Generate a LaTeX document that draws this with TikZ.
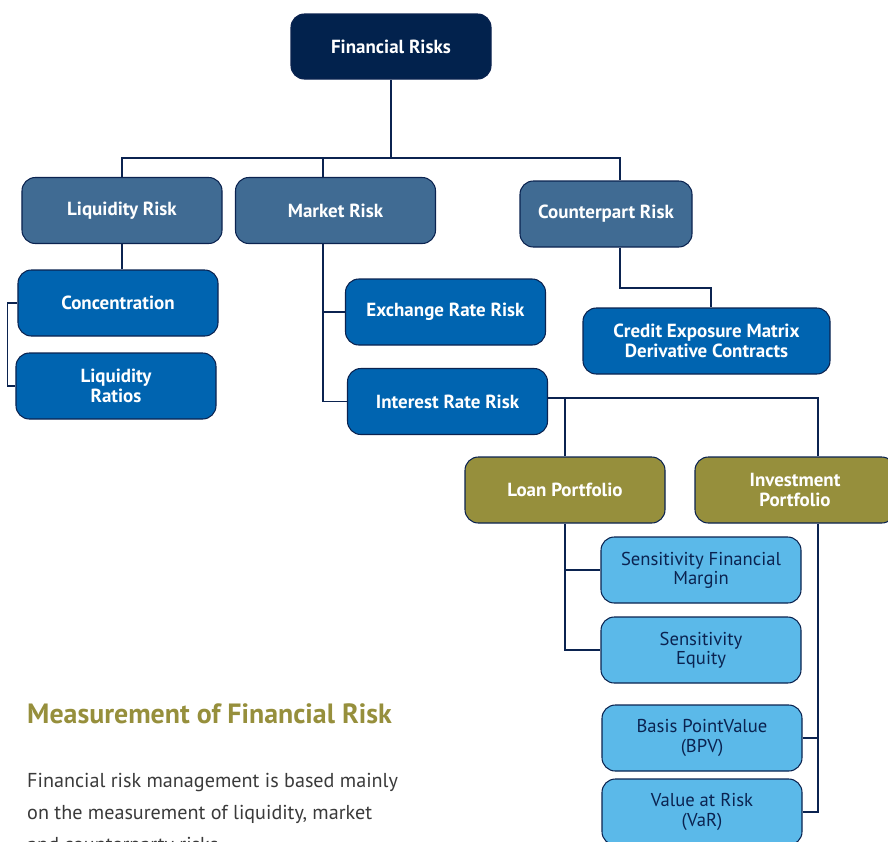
\documentclass[tikz,border=0pt]{standalone}
\usepackage{fontspec}
\setmainfont{PT Sans}
\definecolor{edge}{HTML}{0B2350}
\definecolor{navy}{HTML}{02224D}
\definecolor{steel}{HTML}{406B93}
\definecolor{royal}{HTML}{0064B0}
\definecolor{olive}{HTML}{968F3C}
\definecolor{sky}{HTML}{5BB9E9}
\definecolor{ink}{HTML}{3A3A3A}
\begin{document}
\begin{tikzpicture}[x=0.3mm,y=-0.3mm,
    box/.style={draw=edge,line width=0.9pt,rounded corners=4mm,
        minimum width=60mm,minimum height=19.8mm,inner sep=1pt,align=center,
        text=white,font=\bfseries\fontsize{16.2}{16.5}\selectfont},
    toprisk/.style={box,fill=navy},
    risk/.style={box,fill=steel},
    tool/.style={box,fill=royal},
    folio/.style={box,fill=olive},
    measure/.style={box,fill=sky,text=edge,font=\fontsize{15.9}{16.5}\selectfont},
    link/.style={draw=edge,line width=0.9pt},
    body/.style={anchor=base west,inner sep=0pt,text=ink,font=\fontsize{17.2}{17}\selectfont}]
    \useasboundingbox (0,0) rectangle (888,841);
    % risk tree
    \node[toprisk,minimum height=19.5mm] (fin) at (391,46.5) {Financial Risks};
    \node[risk] (liq) at (122,210.5) {Liquidity Risk};
    \node[risk] (mkt) at (335.5,210.5) {Market Risk};
    \node[risk,minimum width=51.6mm] (cpt) at (606,214) {Counterpart Risk};
    \node[tool] (conc) at (118,303) {Concentration};
    \node[tool] (ratio) at (116,386) {Liquidity\\Ratios};
    \node[tool] (exch) at (445.5,312) {Exchange Rate Risk};
    \node[tool] (intr) at (447.5,401.5) {Interest Rate Risk};
    \node[tool,minimum width=74.1mm] (cred) at (706.5,341) {Credit Exposure Matrix\\Derivative Contracts};
    \node[folio] (loan) at (565,490) {Loan Portfolio};
    \node[folio] (inv) at (795,490) {Investment\\Portfolio};
    \node[measure] (sfm) at (701,570) {Sensitivity Financial\\Margin};
    \node[measure] (seq) at (701,650) {Sensitivity\\Equity};
    \node[measure] (bpv) at (702,738) {Basis PointValue\\(BPV)};
    \node[measure] (var) at (702,812) {Value at Risk\\(VaR)};
    % bends of the connectors
    \coordinate (bus) at (391,158);
    \coordinate (mktdrop) at (323,158);
    \coordinate (cptdrop) at (620,158);
    \coordinate (cptbend) at (711,288);
    \coordinate (invdrop) at (818,398);
    \draw[link] (fin) -- (bus);
    \draw[link] (liq.north) |- (cptdrop) -- (cptdrop |- cpt.north);
    \draw[link] (mktdrop) -- (mktdrop |- mkt.north);
    \draw[link] (liq.south) -- (liq.south |- conc.north);
    \draw[link] (conc.west) -- ++(-10,0) |- (ratio.west);
    \draw[link] (mkt.south -| mktdrop) |- (intr.west);
    \draw[link] (mktdrop |- exch.west) -- (exch.west);
    \draw[link] (cpt.south -| cptdrop) |- (cptbend) -- (cptbend |- cred.north);
    \draw[link] (intr.east |- invdrop) -| (inv.north -| invdrop);
    \draw[link] (loan.north) -- (loan.north |- invdrop);
    \draw[link] (loan.south) |- (seq.west);
    \draw[link] (loan.south |- sfm.west) -- (sfm.west);
    \draw[link] (inv.south -| invdrop) |- (var.east);
    \draw[link] (invdrop |- bpv.east) -- (bpv.east);
    % text below
    \node[anchor=base west,inner sep=0pt,text=olive,font=\bfseries\fontsize{23.8}{24}\selectfont]
        (title) at (27,723) {Measurement of Financial Risk};
    \node[body] (line1) at (27,787) {Financial risk management is based mainly};
    \node[body] (line2) at (27,819) {on the measurement of liquidity, market};
    \node[body] (line3) at (27,851) {and counterparty risks.};
\end{tikzpicture}
\end{document}
